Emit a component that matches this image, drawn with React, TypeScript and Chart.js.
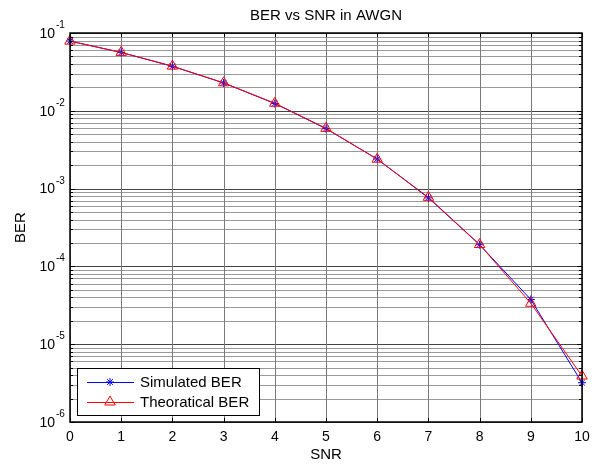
import React, { useEffect, useRef } from 'react';
import { Chart, registerables } from 'chart.js';

Chart.register(...registerables);

const chartTitle = 'BER vs SNR in AWGN';
const xAxisTitle = 'SNR';
const yAxisTitle = 'BER';
const snr = [0, 1, 2, 3, 4, 5, 6, 7, 8, 9, 10];
const simulatedBer = [0.0787, 0.0562, 0.0373, 0.0228, 0.0124, 0.0059, 0.0024, 0.00076, 0.00019, 0.0000375, 0.0000032];
const theoreticalBer = [0.0786, 0.0563, 0.0375, 0.0229, 0.0125, 0.00595, 0.00239, 0.000773, 0.000191, 0.0000336, 0.0000039];
const xTicks = [0, 1, 2, 3, 4, 5, 6, 7, 8, 9, 10];
const yTickExponents = [-6, -5, -4, -3, -2, -1];
const legendLabels = ['Simulated BER', 'Theoratical BER'];

const FONT = '"Liberation Sans", Arial, sans-serif';

function drawTriangle(ctx: CanvasRenderingContext2D, x: number, y: number, r: number) {
  ctx.beginPath();
  const a = Math.PI / 2;
  ctx.moveTo(x, y - r);
  ctx.lineTo(x + r * Math.cos(Math.PI / 6), y + r * Math.sin(Math.PI / 6));
  ctx.lineTo(x - r * Math.cos(Math.PI / 6), y + r * Math.sin(Math.PI / 6));
  ctx.closePath();
  ctx.stroke();
  void a;
}

function drawStar(ctx: CanvasRenderingContext2D, x: number, y: number, r: number) {
  ctx.beginPath();
  for (let i = 0; i < 4; i++) {
    const ang = (i * Math.PI) / 4;
    ctx.moveTo(x - r * Math.cos(ang), y - r * Math.sin(ang));
    ctx.lineTo(x + r * Math.cos(ang), y + r * Math.sin(ang));
  }
  ctx.stroke();
}

const matlabPlugin = {
  id: 'matlabAxes',
  beforeDatasetsDraw(chart: any) {
    const { ctx, chartArea: a, scales } = chart;
    const xs = scales.x;
    const ys = scales.y;
    ctx.save();
    ctx.lineWidth = 1;
    // horizontal grid
    for (let e = yTickExponents[0]; e <= yTickExponents[yTickExponents.length - 1]; e++) {
      for (let m = 1; m <= 9; m++) {
        const v = m * Math.pow(10, e);
        if (e === yTickExponents[yTickExponents.length - 1] && m > 1) break;
        const py = Math.round(ys.getPixelForValue(v)) + 0.5;
        ctx.strokeStyle = m === 1 ? '#444' : '#9a9a9a';
        ctx.beginPath();
        ctx.moveTo(a.left, py);
        ctx.lineTo(a.right, py);
        ctx.stroke();
      }
    }
    // vertical grid
    ctx.strokeStyle = '#7a7a7a';
    for (const t of xTicks) {
      const px = Math.round(xs.getPixelForValue(t)) + 0.5;
      ctx.beginPath();
      ctx.moveTo(px, a.top);
      ctx.lineTo(px, a.bottom);
      ctx.stroke();
    }
    ctx.restore();
  },
  afterDraw(chart: any) {
    const { ctx, chartArea: a, scales } = chart;
    const xs = scales.x;
    const ys = scales.y;
    ctx.save();
    // box
    ctx.strokeStyle = '#000';
    ctx.lineWidth = 1.5;
    ctx.strokeRect(a.left, a.top, a.right - a.left, a.bottom - a.top);
    // x ticks
    ctx.lineWidth = 1;
    for (const t of xTicks) {
      const px = Math.round(xs.getPixelForValue(t)) + 0.5;
      ctx.beginPath();
      ctx.moveTo(px, a.top);
      ctx.lineTo(px, a.top + 4);
      ctx.moveTo(px, a.bottom);
      ctx.lineTo(px, a.bottom - 4);
      ctx.stroke();
    }
    // y ticks
    for (let e = yTickExponents[0]; e <= yTickExponents[yTickExponents.length - 1]; e++) {
      for (let m = 1; m <= 9; m++) {
        if (e === yTickExponents[yTickExponents.length - 1] && m > 1) break;
        const py = Math.round(ys.getPixelForValue(m * Math.pow(10, e))) + 0.5;
        const len = m === 1 ? 5 : 3;
        ctx.beginPath();
        ctx.moveTo(a.left, py);
        ctx.lineTo(a.left + len, py);
        ctx.moveTo(a.right, py);
        ctx.lineTo(a.right - len, py);
        ctx.stroke();
      }
    }
    ctx.fillStyle = '#000';
    // x tick labels
    ctx.font = `14px ${FONT}`;
    ctx.textAlign = 'center';
    ctx.textBaseline = 'middle';
    for (const t of xTicks) {
      ctx.fillText(String(t), xs.getPixelForValue(t), a.bottom + 15);
    }
    // y tick labels
    for (const e of yTickExponents) {
      const py = ys.getPixelForValue(Math.pow(10, e));
      ctx.font = `14px ${FONT}`;
      ctx.textAlign = 'right';
      ctx.textBaseline = 'middle';
      ctx.fillText('10', a.left - 15, py + 1);
      ctx.font = `10px ${FONT}`;
      ctx.textAlign = 'left';
      ctx.textBaseline = 'alphabetic';
      ctx.fillText(String(e), a.left - 14, py - 5);
    }
    // titles
    ctx.font = `15px ${FONT}`;
    ctx.textAlign = 'center';
    ctx.textBaseline = 'middle';
    ctx.fillText(chartTitle, (a.left + a.right) / 2, 16);
    ctx.fillText(xAxisTitle, (a.left + a.right) / 2, 455);
    ctx.save();
    ctx.translate(21, (a.top + a.bottom) / 2);
    ctx.rotate(-Math.PI / 2);
    ctx.fillText(yAxisTitle, 0, 0);
    ctx.restore();
    // legend
    const lx = a.left + 7;
    const lw = 182;
    const lh = 47;
    const ly = a.bottom - 7 - lh;
    ctx.fillStyle = '#fff';
    ctx.fillRect(lx, ly, lw, lh);
    ctx.strokeStyle = '#000';
    ctx.lineWidth = 1;
    ctx.strokeRect(lx + 0.5, ly + 0.5, lw, lh);
    const colors = ['#0000ff', '#ff0000'];
    for (let i = 0; i < 2; i++) {
      const ry = ly + 14 + i * 20;
      ctx.strokeStyle = colors[i];
      ctx.lineWidth = 1;
      ctx.beginPath();
      ctx.moveTo(lx + 10, ry + 0.5);
      ctx.lineTo(lx + 57, ry + 0.5);
      ctx.stroke();
      if (i === 0) drawStar(ctx, lx + 33, ry, 4);
      else drawTriangle(ctx, lx + 33, ry, 6);
      ctx.fillStyle = '#000';
      ctx.font = `15px ${FONT}`;
      ctx.textAlign = 'left';
      ctx.textBaseline = 'middle';
      ctx.fillText(legendLabels[i], lx + 63, ry + 1);
    }
    ctx.restore();
  },
};

export default function App() {
  const ref = useRef<HTMLCanvasElement>(null);
  useEffect(() => {
    if (!ref.current) return;
    const chart = new Chart(ref.current, {
      type: 'line',
      data: {
        datasets: [
          {
            label: legendLabels[0],
            data: snr.map((x, i) => ({ x, y: simulatedBer[i] })),
            borderColor: '#0000ff',
            backgroundColor: '#0000ff',
            borderWidth: 1,
            pointStyle: 'star',
            pointRadius: 4,
            pointBorderWidth: 1,
            pointBorderColor: '#0000ff',
            tension: 0,
            clip: false as any,
            order: 1,
          },
          {
            label: legendLabels[1],
            data: snr.map((x, i) => ({ x, y: theoreticalBer[i] })),
            borderColor: '#ff0000',
            backgroundColor: 'rgba(0,0,0,0)',
            borderWidth: 1,
            pointStyle: 'triangle',
            pointRadius: 6,
            pointBorderWidth: 1,
            pointBorderColor: '#ff0000',
            pointBackgroundColor: 'rgba(0,0,0,0)',
            tension: 0,
            clip: false as any,
            order: 0,
          },
        ],
      },
      options: {
        responsive: false,
        animation: false,
        devicePixelRatio: 1,
        layout: { padding: { left: 70, top: 33, right: 13, bottom: 42 } },
        plugins: { legend: { display: false }, tooltip: { enabled: false }, title: { display: false } },
        scales: {
          x: { type: 'linear', min: 0, max: 10, display: false },
          y: { type: 'logarithmic', min: 1e-6, max: 1e-1, display: false },
        },
      },
      plugins: [matlabPlugin],
    });
    return () => chart.destroy();
  }, []);
  return (
    <div style={{ position: 'fixed', left: 0, top: 0, width: 595, height: 464, background: '#fff' }}>
      <canvas ref={ref} width={595} height={464} style={{ display: 'block' }} />
    </div>
  );
}
